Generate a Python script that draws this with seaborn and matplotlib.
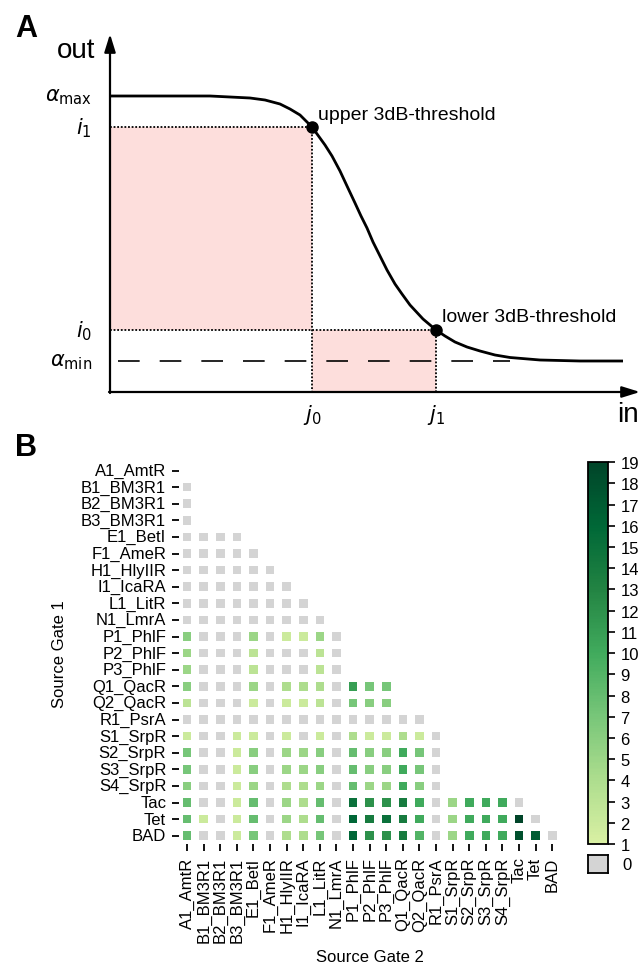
import numpy as np
import pandas as pd
import seaborn as sns
import matplotlib.pyplot as plt
from matplotlib.colors import ListedColormap

# ---- panel A: schematic repressor response
# (units = pixels right of / above the origin of the sketch)
curve_in = [0, 100, 140, 155, 170, 180, 190, 202, 215, 222, 230, 237, 245, 251,
            257, 263, 270, 277, 285, 292, 300, 313, 326, 335, 345, 357, 370, 385,
            400, 430, 470, 513]
curve_out = [296, 296, 294, 292, 288, 283, 277, 265, 247, 236, 221, 206, 189, 176,
             164, 150, 136, 122, 108, 98, 87, 73, 62, 56, 50, 45, 41, 37,
             34.5, 32, 31, 31]
alpha_max = 296
alpha_min = 31
i1 = 265
i0 = 62
j0 = 202
j1 = 326

# ---- panel B: gate compatibility counts (None = pair not allowed)
gates = ['A1_AmtR', 'B1_BM3R1', 'B2_BM3R1', 'B3_BM3R1', 'E1_BetI', 'F1_AmeR',
         'H1_HlyIIR', 'I1_IcaRA', 'L1_LitR', 'N1_LmrA', 'P1_PhlF', 'P2_PhlF',
         'P3_PhlF', 'Q1_QacR', 'Q2_QacR', 'R1_PsrA', 'S1_SrpR', 'S2_SrpR',
         'S3_SrpR', 'S4_SrpR', 'Tac', 'Tet', 'BAD']

row_A1 = []
row_B1 = [0]
row_B2 = [0, None]
row_B3 = [0, None, None]
row_E1 = [0, 0, 0, 0]
row_F1 = [0, 0, 0, 0, 0]
row_H1 = [0, 0, 0, 0, 0, 0]
row_I1 = [0, 0, 0, 0, 0, 0, 0]
row_L1 = [0, 0, 0, 0, 0, 0, 0, 0]
row_N1 = [0, 0, 0, 0, 0, 0, 0, 0, 0]
row_P1 = [6, 0, 0, 0, 5, 0, 2, 2, 5, 0]
row_P2 = [5, 0, 0, 0, 3, 0, 0, 0, 3, 0, None]
row_P3 = [5, 0, 0, 0, 3, 0, 0, 0, 3, 0, None, None]
row_Q1 = [6, 0, 0, 0, 5, 0, 4, 4, 4, 0, 11, 7, 7]
row_Q2 = [3, 0, 0, 0, 2, 0, 2, 2, 3, 0, 7, 6, 6, None]
row_R1 = [0, 0, 0, 0, 0, 0, 0, 0, 0, 0, 0, 0, 0, 0, 0]
row_S1 = [2, 0, 0, 2, 2, 0, 2, 0, 2, 0, 4, 2, 2, 4, 2, 0]
row_S2 = [7, 0, 0, 2, 6, 0, 5, 5, 6, 0, 8, 6, 6, 10, 7, 0, None]
row_S3 = [7, 0, 0, 2, 6, 0, 5, 5, 6, 0, 8, 6, 6, 10, 7, 0, None, None]
row_S4 = [6, 0, 0, 2, 5, 0, 4, 4, 5, 0, 8, 5, 5, 10, 6, 0, None, None, None]
row_Tac = [8, 0, 0, 2, 8, 0, 5, 4, 8, 0, 15, 12, 12, 14, 10, 0, 5, 10, 10, 10, 0]
row_Tet = [8, 2, 0, 2, 8, 0, 5, 4, 8, 0, 16, 14, 15, 14, 10, 0, 5, 10, 10, 10, 19, 0]
row_BAD = [8, 0, 0, 2, 7, 0, 4, 4, 7, 0, 16, 12, 12, 14, 9, 0, 5, 10, 10, 10, 18, 17, 0]

rows = [row_A1, row_B1, row_B2, row_B3, row_E1, row_F1, row_H1, row_I1, row_L1,
        row_N1, row_P1, row_P2, row_P3, row_Q1, row_Q2, row_R1, row_S1, row_S2,
        row_S3, row_S4, row_Tac, row_Tet, row_BAD]

mat = np.full((len(gates), len(gates)), np.nan)
for r, vals in enumerate(rows):
    for c, v in enumerate(vals):
        if v is not None:
            mat[r, c] = v
df = pd.DataFrame(mat, index=gates, columns=gates)

sns.set_theme(style='ticks')
plt.rcParams['font.family'] = ['Liberation Sans', 'DejaVu Sans']
plt.rcParams['mathtext.fontset'] = 'dejavusans'
for k in ['text.color', 'axes.labelcolor', 'xtick.color', 'ytick.color']:
    plt.rcParams[k] = 'black'

W, H = 644, 970
fig = plt.figure(figsize=(W / 100, H / 100), dpi=100)


def px_box(x0, y0, x1, y1):
    return [x0 / W, 1 - y1 / H, (x1 - x0) / W, (y1 - y0) / H]


# ---------------- panel A
ax_a = fig.add_axes(px_box(110, 30, 644, 393))
ax_a.set_xlim(0, 534)
ax_a.set_ylim(0, 363)
ax_a.axis('off')

pink = '#fddedc'
ax_a.fill_between([0, j0], i0, i1, color=pink, lw=0)
ax_a.fill_between([j0, j1], 0, i0, color=pink, lw=0)

dot = (0, (1, 1))
ax_a.plot([0, j0, j0], [i1, i1, 0], ls=dot, lw=1.3, color='black')
ax_a.plot([0, j1, j1], [i0, i0, 0], ls=dot, lw=1.3, color='black')
ax_a.plot([8, 400], [alpha_min, alpha_min], ls=(0, (13, 12)), lw=1.2, color='black')

ax_a.plot(curve_in, curve_out, color='black', lw=2.0, solid_capstyle='butt',
          solid_joinstyle='round')
ax_a.plot([j0, j1], [i1, i0], 'o', ms=8, color='black')

arrow = dict(arrowstyle='-|>,head_length=0.9,head_width=0.28', color='black',
             lw=1.6, shrinkA=0, shrinkB=0, mutation_scale=12)
ax_a.annotate('', xy=(0, 358), xytext=(0, -1), arrowprops=arrow, annotation_clip=False)
ax_a.annotate('', xy=(530, 0), xytext=(-1, 0), arrowprops=arrow, annotation_clip=False)

ax_a.text(-15, 342, 'out', ha='right', va='center', fontsize=20)
ax_a.text(518, -22, 'in', ha='center', va='center', fontsize=20, clip_on=False)
ax_a.text(-18, alpha_max, r'$\alpha_\mathrm{max}$', ha='right', va='center', fontsize=15)
ax_a.text(-18, alpha_min, r'$\alpha_\mathrm{min}$', ha='right', va='center', fontsize=15)
ax_a.text(-18, i1, r'$i_1$', ha='right', va='center', fontsize=15)
ax_a.text(-18, i0, r'$i_0$', ha='right', va='center', fontsize=15)
ax_a.text(j0, -10, r'$j_0$', ha='center', va='top', fontsize=15)
ax_a.text(j1, -10, r'$j_1$', ha='center', va='top', fontsize=15)
ax_a.text(j0 + 6, i1 + 13, 'upper 3dB-threshold', ha='left', va='center', fontsize=14)
ax_a.text(j1 + 6, i0 + 13, 'lower 3dB-threshold', ha='left', va='center', fontsize=14)

fig.text(15 / W, 1 - 14 / H, 'A', fontsize=22, fontweight='bold', va='top', ha='left')
fig.text(15 / W, 1 - 433 / H, 'B', fontsize=22, fontweight='bold', va='top', ha='left')

# ---------------- panel B
ax_b = fig.add_axes(px_box(178.7, 463.2, 560.5, 845))
cax = fig.add_axes(px_box(588, 463.2, 608, 845))

greens = ListedColormap(plt.get_cmap('YlGn')(np.linspace(0.25, 1.0, 256)))
gray = '#d4d4d4'

sns.heatmap(df.where(df == 0), ax=ax_b, cmap=ListedColormap([gray]), vmin=0, vmax=1,
            cbar=False, linewidths=4.5, linecolor='white',
            xticklabels=gates, yticklabels=gates)
sns.heatmap(df.where(df > 0), ax=ax_b, cmap=greens, vmin=1, vmax=19,
            cbar_ax=cax, linewidths=4.5, linecolor='white',
            xticklabels=gates, yticklabels=gates,
            cbar_kws={'ticks': list(range(1, 20))})

ax_b.set_xticklabels(gates, rotation=90, fontsize=12)
ax_b.set_yticklabels(gates, rotation=0, fontsize=12)
ax_b.tick_params(bottom=True, left=True, length=5, width=1.3, pad=4, color='black')
ax_b.set_xlabel('Source Gate 2', fontsize=12, labelpad=5)
ax_b.set_ylabel('Source Gate 1', fontsize=12, labelpad=10)

cb = ax_b.collections[-1].colorbar
cb.outline.set_visible(True)
cb.outline.set_linewidth(1.3)
cb.outline.set_edgecolor('black')
cb.ax.tick_params(labelsize=12, length=5, width=1.2, color='black', pad=4)

zax = fig.add_axes(px_box(588, 856, 608, 874))
zax.set_facecolor(gray)
zax.set_xticks([])
zax.set_yticks([])
for s in zax.spines.values():
    s.set_visible(True)
    s.set_linewidth(1.3)
    s.set_edgecolor('black')
fig.text(622 / W, 1 - 865 / H, '0', fontsize=12, va='center', ha='left')

fig.savefig('out.png', dpi=100)
